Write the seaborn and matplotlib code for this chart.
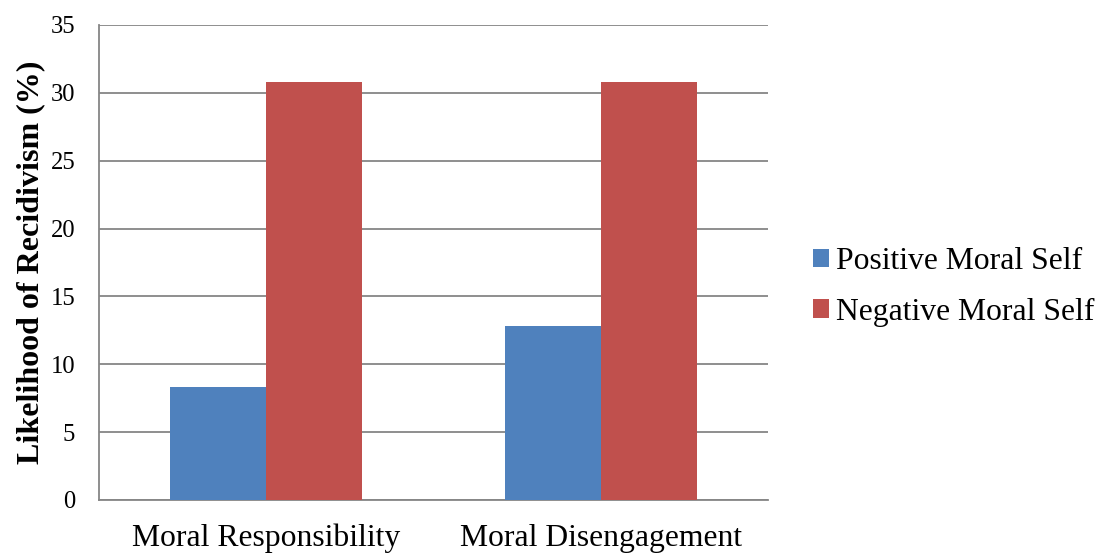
import matplotlib
matplotlib.use("Agg")
import matplotlib.pyplot as plt
from matplotlib.patches import Patch
from matplotlib.ticker import FixedLocator
import seaborn as sns
import pandas as pd

# Data
categories = ["Moral Responsibility", "Moral Disengagement"]
groups = ["Positive Moral Self", "Negative Moral Self"]
positive_values = [8.3, 12.8]
negative_values = [30.8, 30.8]
y_ticks = [0, 5, 10, 15, 20, 25, 30, 35]

colors = {"Positive Moral Self": "#4F81BD", "Negative Moral Self": "#C0504D"}
grid_color = "#868686"

df = pd.DataFrame({
    "Category": categories * 2,
    "Group": [groups[0]] * len(categories) + [groups[1]] * len(categories),
    "Value": positive_values + negative_values,
})

sns.set_theme(style="white")
plt.rcParams["font.family"] = ["Liberation Serif", "DejaVu Serif"]
plt.rcParams["text.color"] = "black"
plt.rcParams["axes.labelcolor"] = "black"

fig = plt.figure(figsize=(11.02, 5.54), dpi=100)
ax = fig.add_axes([0.0898, 0.0975, 0.6072, 0.8574])

sns.barplot(data=df, x="Category", y="Value", hue="Group", order=categories,
            hue_order=groups, palette=colors, width=0.573, saturation=1,
            linewidth=0, errorbar=None, legend=False, ax=ax, zorder=3)

ax.set_xlim(-0.5, len(categories) - 0.5)
ax.set_ylim(0, 35)
ax.set_yticks(y_ticks)
ax.yaxis.grid(True, color=grid_color, linewidth=1.3, zorder=0)
ax.set_axisbelow(True)

for side in ["top", "right"]:
    ax.spines[side].set_visible(False)
for side in ["left", "bottom"]:
    ax.spines[side].set_color(grid_color)
    ax.spines[side].set_linewidth(1.3)

# Category labels without marks; boundary marks below the axis
ax.tick_params(axis="x", which="major", length=0, labelsize=22.8, pad=17, colors="black")
ax.xaxis.set_minor_locator(FixedLocator([i - 0.5 for i in range(len(categories) + 1)]))
ax.tick_params(axis="x", which="minor", length=7, width=1.3, color=grid_color, direction="out")
ax.tick_params(axis="y", which="major", length=6, width=1.3, color=grid_color,
               labelsize=17.7, pad=11, direction="out")
ax.tick_params(axis="both", labelcolor="black")

ax.set_xlabel("")
ax.set_ylabel("Likelihood of Recidivism (%)", fontsize=23, fontweight="bold",
              labelpad=4, color="black")

handles = [Patch(facecolor=colors[g], edgecolor="none") for g in groups]
fig.legend(handles, groups, loc="center left", bbox_to_anchor=(0.712, 0.482),
           frameon=False, fontsize=22.8, handlelength=0.5, handleheight=0.5,
           handletextpad=0.22, labelspacing=0.68, labelcolor="black")

fig.savefig("out.png", dpi=100, facecolor="white")
